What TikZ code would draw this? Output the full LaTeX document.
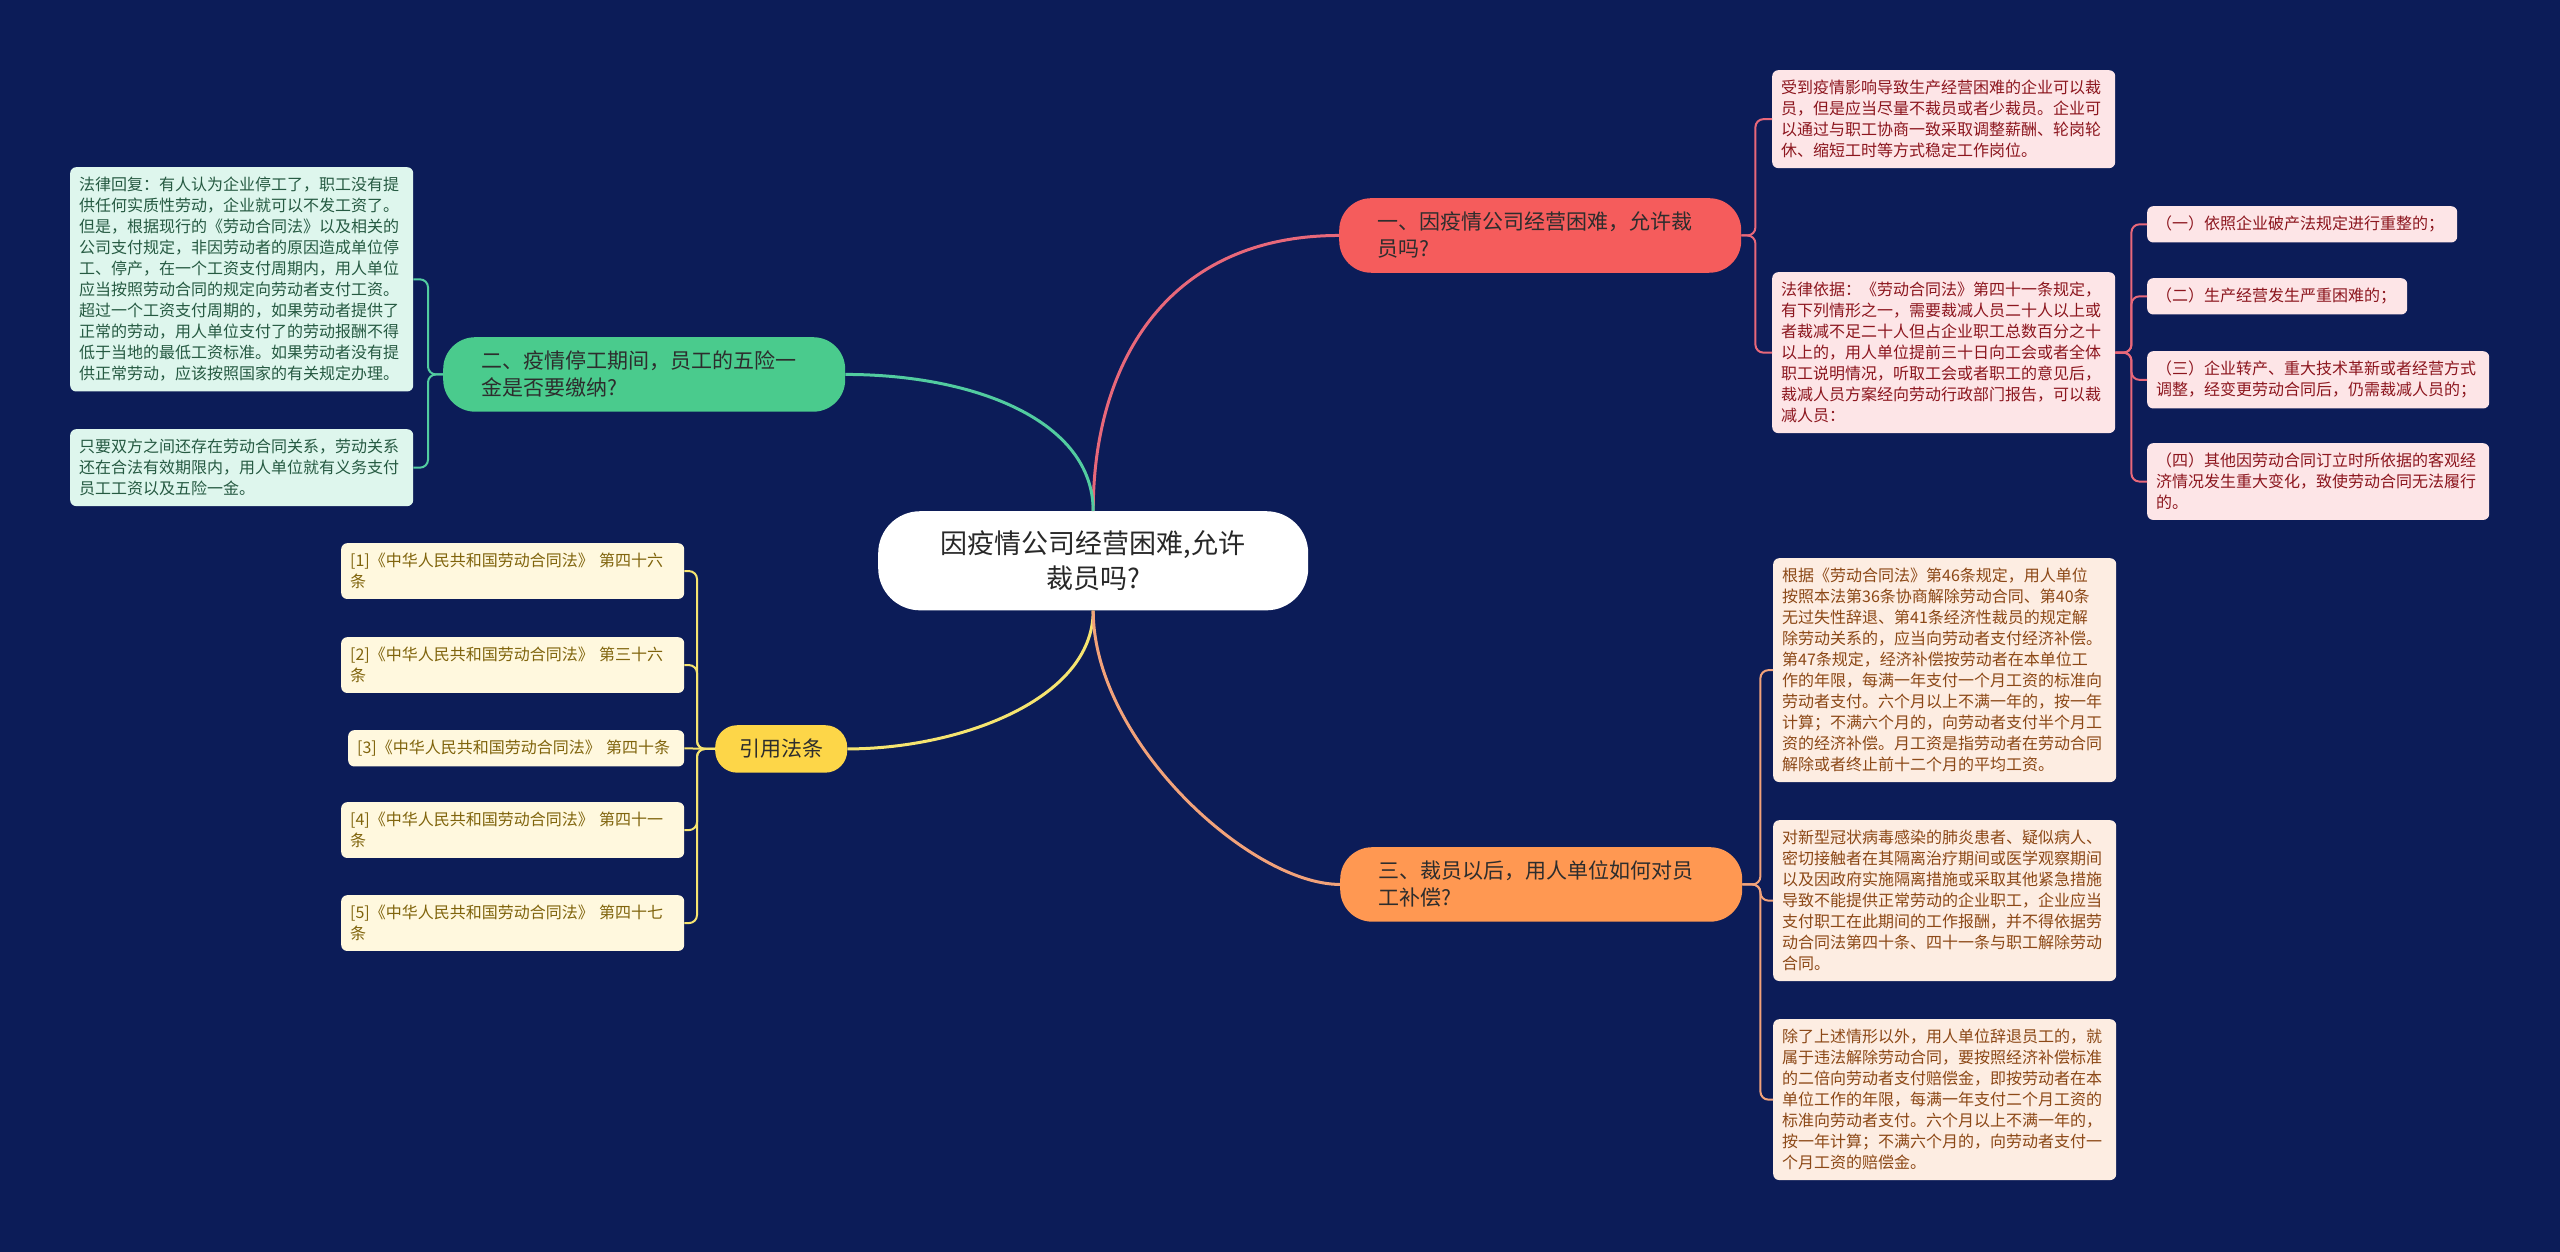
\documentclass[tikz,border=0pt]{standalone}
\usepackage{fontspec}
\setmainfont{Noto Sans CJK SC}
\usepackage{xcolor}
\usepackage{tikz}
\definecolor{bgnavy}{RGB}{12,28,88}
\definecolor{roottext}{RGB}{40,40,40}
\definecolor{topictext}{RGB}{45,45,45}
\definecolor{redtopic}{RGB}{245,92,92}
\definecolor{greentopic}{RGB}{74,203,141}
\definecolor{yellowtopic}{RGB}{253,214,72}
\definecolor{orangetopic}{RGB}{255,152,82}
\definecolor{redleaffill}{RGB}{253,229,231}
\definecolor{redleaftext}{RGB}{140,22,30}
\definecolor{greenleaffill}{RGB}{222,246,237}
\definecolor{greenleaftext}{RGB}{38,90,66}
\definecolor{yellowleaffill}{RGB}{255,248,222}
\definecolor{yellowleaftext}{RGB}{128,100,12}
\definecolor{orangeleaffill}{RGB}{253,237,226}
\definecolor{orangeleaftext}{RGB}{140,72,22}
\definecolor{redline}{RGB}{232,104,122}
\definecolor{greenline}{RGB}{82,204,160}
\definecolor{yellowline}{RGB}{246,228,112}
\definecolor{orangeline}{RGB}{242,162,122}
\newcommand{\leaffont}{\fontsize{16}{21}\selectfont}
\newcommand{\topicfont}{\fontsize{21}{27}\selectfont}
\newcommand{\rootfont}{\fontsize{27}{35}\selectfont}
\tikzset{
  rootbox/.style={
    fill=white,
    rounded corners=42pt,
    align=center,
    inner ysep=19.5pt,
    minimum width=430pt,
    text=roottext,
    font=\rootfont,
    anchor=north west
  },
  topicbox/.style={
    rounded corners=32pt,
    align=left,
    inner xsep=38pt,
    inner ysep=14pt,
    text=topictext,
    font=\topicfont,
    anchor=north west
  },
  redtopicbox/.style={topicbox, fill=redtopic},
  greentopicbox/.style={topicbox, fill=greentopic},
  yellowtopicbox/.style={topicbox, fill=yellowtopic},
  orangetopicbox/.style={topicbox, fill=orangetopic},
  leafbox/.style={
    rounded corners=6pt,
    align=left,
    inner xsep=9pt,
    inner ysep=10pt,
    font=\leaffont,
    anchor=north west
  },
  redleaf/.style={leafbox, fill=redleaffill, text=redleaftext},
  greenleaf/.style={leafbox, fill=greenleaffill, text=greenleaftext},
  yellowleaf/.style={leafbox, fill=yellowleaffill, text=yellowleaftext},
  orangeleaf/.style={leafbox, fill=orangeleaffill, text=orangeleaftext},
  branch/.style={line width=3pt},
  twig/.style={line width=2pt, rounded corners=8pt},
  redtwig/.style={twig, draw=redline},
  greentwig/.style={twig, draw=greenline},
  yellowtwig/.style={twig, draw=yellowline},
  orangetwig/.style={twig, draw=orangeline}
}
\begin{document}
\begin{tikzpicture}[x=1pt, y=-1pt]
\fill[bgnavy] (0,0) rectangle (2560,1252);

\node[rootbox] (root) at (878,511) {因疫情公司经营困难,允许\\裁员吗?};
\node[redtopicbox, text width=326pt] (recession) at (1339,198) {一、因疫情公司经营困难，允许裁\\员吗?};
\node[greentopicbox, text width=326pt] (insurance) at (443,337) {二、疫情停工期间，员工的五险一\\金是否要缴纳?};
\node[orangetopicbox, text width=326pt] (redress) at (1340,847) {三、裁员以后，用人单位如何对员\\工补偿?};
\node[yellowtopicbox, rounded corners=22pt, inner xsep=24pt] (statutes) at (715,725) {引用法条};

\node[redleaf, text width=325pt] (layoff) at (1772,70) {受到疫情影响导致生产经营困难的企业可以裁\\员，但是应当尽量不裁员或者少裁员。企业可\\以通过与职工协商一致采取调整薪酬、轮岗轮\\休、缩短工时等方式稳定工作岗位。};
\node[redleaf, text width=325pt] (basis) at (1772,272) {法律依据：《劳动合同法》第四十一条规定，\\有下列情形之一，需要裁减人员二十人以上或\\者裁减不足二十人但占企业职工总数百分之十\\以上的，用人单位提前三十日向工会或者全体\\职工说明情况，听取工会或者职工的意见后，\\裁减人员方案经向劳动行政部门报告，可以裁\\减人员：};
\node[redleaf, text width=292pt] (caseone) at (2147,206) {（一）依照企业破产法规定进行重整的；};
\node[redleaf, text width=242pt] (casetwo) at (2147,278) {（二）生产经营发生严重困难的；};
\node[redleaf, text width=324pt] (casethree) at (2147,351) {（三）企业转产、重大技术革新或者经营方式\\调整，经变更劳动合同后，仍需裁减人员的；};
\node[redleaf, text width=324pt] (casefour) at (2147,443) {（四）其他因劳动合同订立时所依据的客观经\\济情况发生重大变化，致使劳动合同无法履行\\的。};

\node[greenleaf, text width=325pt] (reply) at (70,167) {法律回复：有人认为企业停工了，职工没有提\\供任何实质性劳动，企业就可以不发工资了。\\但是，根据现行的《劳动合同法》以及相关的\\公司支付规定，非因劳动者的原因造成单位停\\工、停产，在一个工资支付周期内，用人单位\\应当按照劳动合同的规定向劳动者支付工资。\\超过一个工资支付周期的，如果劳动者提供了\\正常的劳动，用人单位支付了的劳动报酬不得\\低于当地的最低工资标准。如果劳动者没有提\\供正常劳动，应该按照国家的有关规定办理。};
\node[greenleaf, text width=325pt] (duty) at (70,429) {只要双方之间还存在劳动合同关系，劳动关系\\还在合法有效期限内，用人单位就有义务支付\\员工工资以及五险一金。};

\node[orangeleaf, text width=325pt] (severance) at (1773,558) {根据《劳动合同法》第46条规定，用人单位\\按照本法第36条协商解除劳动合同、第40条\\无过失性辞退、第41条经济性裁员的规定解\\除劳动关系的，应当向劳动者支付经济补偿。\\第47条规定，经济补偿按劳动者在本单位工\\作的年限，每满一年支付一个月工资的标准向\\劳动者支付。六个月以上不满一年的，按一年\\计算；不满六个月的，向劳动者支付半个月工\\资的经济补偿。月工资是指劳动者在劳动合同\\解除或者终止前十二个月的平均工资。};
\node[orangeleaf, text width=325pt] (quarantine) at (1773,820) {对新型冠状病毒感染的肺炎患者、疑似病人、\\密切接触者在其隔离治疗期间或医学观察期间\\以及因政府实施隔离措施或采取其他紧急措施\\导致不能提供正常劳动的企业职工，企业应当\\支付职工在此期间的工作报酬，并不得依据劳\\动合同法第四十条、四十一条与职工解除劳动\\合同。};
\node[orangeleaf, text width=325pt] (damages) at (1773,1019) {除了上述情形以外，用人单位辞退员工的，就\\属于违法解除劳动合同，要按照经济补偿标准\\的二倍向劳动者支付赔偿金，即按劳动者在本\\单位工作的年限，每满一年支付二个月工资的\\标准向劳动者支付。六个月以上不满一年的，\\按一年计算；不满六个月的，向劳动者支付一\\个月工资的赔偿金。};

\node[yellowleaf, text width=325pt] (refone) at (341,543) {[1]《中华人民共和国劳动合同法》 第四十六\\条};
\node[yellowleaf, text width=325pt] (reftwo) at (341,637) {[2]《中华人民共和国劳动合同法》 第三十六\\条};
\node[yellowleaf, text width=318pt] (refthree) at (348,730) {[3]《中华人民共和国劳动合同法》 第四十条};
\node[yellowleaf, text width=325pt] (reffour) at (341,802) {[4]《中华人民共和国劳动合同法》 第四十一\\条};
\node[yellowleaf, text width=325pt] (reffive) at (341,895) {[5]《中华人民共和国劳动合同法》 第四十七\\条};

\draw[branch, redline] (root.north) .. controls +(0,-150) and +(-170,0) .. (recession.west);
\draw[branch, greenline] (root.north) .. controls +(0,-90) and +(130,0) .. (insurance.east);
\draw[branch, yellowline] (root.south) .. controls +(0,90) and +(110,0) .. (statutes.east);
\draw[branch, orangeline] (root.south) .. controls +(0,130) and +(-90,0) .. (redress.west);

\draw[redtwig] (recession.east) -- ++(14,0) |- (layoff.west);
\draw[redtwig] (recession.east) -- ++(14,0) |- (basis.west);
\draw[redtwig] (basis.east) -- ++(16,0) |- (caseone.west);
\draw[redtwig] (basis.east) -- ++(16,0) |- (casetwo.west);
\draw[redtwig] (basis.east) -- ++(16,0) |- (casethree.west);
\draw[redtwig] (basis.east) -- ++(16,0) |- (casefour.west);
\draw[greentwig] (insurance.west) -- ++(-15,0) |- (reply.east);
\draw[greentwig] (insurance.west) -- ++(-15,0) |- (duty.east);
\draw[orangetwig] (redress.east) -- ++(18,0) |- (severance.west);
\draw[orangetwig] (redress.east) -- ++(18,0) |- (quarantine.west);
\draw[orangetwig] (redress.east) -- ++(18,0) |- (damages.west);
\draw[yellowtwig] (statutes.west) -- ++(-18,0) |- (refone.east);
\draw[yellowtwig] (statutes.west) -- ++(-18,0) |- (reftwo.east);
\draw[yellowtwig] (statutes.west) -- (refthree.east);
\draw[yellowtwig] (statutes.west) -- ++(-18,0) |- (reffour.east);
\draw[yellowtwig] (statutes.west) -- ++(-18,0) |- (reffive.east);
\end{tikzpicture}
\end{document}
